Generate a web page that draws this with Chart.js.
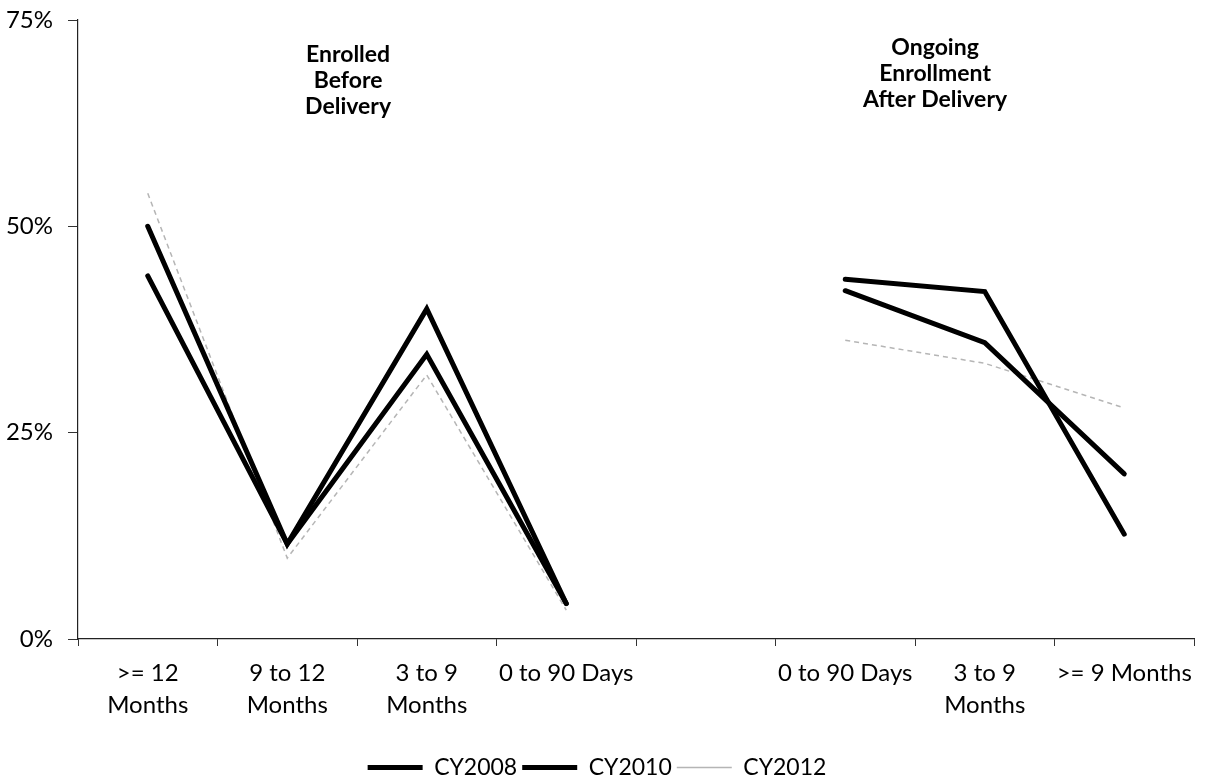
<!DOCTYPE html>
<html>
<head>
<meta charset="utf-8">
<title>Enrollment timing</title>
<script src="https://cdn.jsdelivr.net/npm/chart.js@4.4.1/dist/chart.umd.min.js"></script>
<style>
  html, body { margin: 0; padding: 0; background: #fff; }
  #wrap { width: 1205px; height: 783px; }
</style>
</head>
<body>
<div id="wrap"><canvas id="lineChart" width="1205" height="783"></canvas></div>
<script>
// categories: four "before delivery" buckets, an empty spacer, three "after delivery" buckets
const categories = [
    ['>= 12', 'Months'], ['9 to 12', 'Months'], ['3 to 9', 'Months'], '0 to 90 Days',
    '',
    '0 to 90 Days', ['3 to 9', 'Months'], '>= 9 Months'
];
const cy2008 = [50, 11.5, 40, 4.3, null, 42.2, 35.9, 20];
const cy2010 = [44, 11.5, 34.5, 4.3, null, 43.6, 42.1, 12.7];
const cy2012 = [54, 9.8, 32, 3.5, null, 36.2, 33.4, 28];
const yTicks = [0, 25, 50, 75];
const groupTitles = [
    ['Enrolled', 'Before', 'Delivery'],
    ['Ongoing', 'Enrollment', 'After Delivery']
];

document.addEventListener('DOMContentLoaded', function () {
    Chart.defaults.font.family = 'Lato, "Open Sans", sans-serif';
    Chart.defaults.color = '#111';

    // Bold group captions inside the plot
    const groupTitlePlugin = {
        id: 'groupTitles',
        afterDraw(chart) {
            const area = chart.chartArea;
            const ctx = chart.ctx;
            const spots = [
                { fx: 0.242, top: 35 },
                { fx: 0.768, top: 28 }
            ];
            ctx.save();
            ctx.font = 'bold 23px Lato, sans-serif';
            ctx.fillStyle = '#000';
            ctx.textAlign = 'center';
            ctx.textBaseline = 'middle';
            groupTitles.forEach((lines, i) => {
                const cx = area.left + spots[i].fx * (area.right - area.left);
                lines.forEach((line, j) => {
                    ctx.fillText(line, cx, area.top + spots[i].top + j * 26);
                });
            });
            ctx.restore();
        }
    };

    const black = {
        borderColor: '#000',
        backgroundColor: '#000',
        borderWidth: 5,
        borderJoinStyle: 'miter',
        borderCapStyle: 'round',
        pointRadius: 0,
        tension: 0
    };

    const ctx = document.getElementById('lineChart').getContext('2d');
    new Chart(ctx, {
        type: 'line',
        data: {
            labels: categories,
            datasets: [
                Object.assign({ label: 'CY2008', data: cy2008 }, black),
                Object.assign({ label: 'CY2010', data: cy2010 }, black),
                {
                    label: 'CY2012',
                    data: cy2012,
                    borderColor: 'rgba(150,150,150,0.7)',
                    backgroundColor: 'rgba(150,150,150,0.7)',
                    borderWidth: 1.5,
                    borderDash: [5, 4],
                    pointRadius: 0,
                    tension: 0
                }
            ]
        },
        options: {
            responsive: false,
            animation: false,
            spanGaps: false,
            layout: { padding: { left: 0, right: 11, top: 20, bottom: -6 } },
            scales: {
                x: {
                    offset: true,
                    grid: {
                        offset: true,
                        drawOnChartArea: false,
                        drawTicks: true,
                        tickLength: 7,
                        color: '#333'
                    },
                    border: { display: true, color: '#222', width: 1.2 },
                    ticks: {
                        autoSkip: false,
                        maxRotation: 0,
                        padding: 12,
                        color: '#000',
                        font: { size: 24, lineHeight: 1.3 }
                    },
                    afterFit(scale) { scale.height = 112; }
                },
                y: {
                    min: 0,
                    max: 75,
                    afterBuildTicks(scale) {
                        scale.ticks = yTicks.map(v => ({ value: v }));
                    },
                    grid: {
                        drawOnChartArea: false,
                        drawTicks: true,
                        tickLength: 10,
                        color: '#333'
                    },
                    border: { display: true, color: '#222', width: 1.2 },
                    ticks: {
                        padding: 15,
                        color: '#000',
                        font: { size: 24 },
                        callback: v => v + '%'
                    },
                    afterFit(scale) {
                        scale.width = 78;
                        // let the layout padding alone decide the top edge
                        scale.paddingTop = 0;
                        scale.paddingBottom = 0;
                    }
                }
            },
            plugins: {
                legend: {
                    position: 'bottom',
                    labels: {
                        usePointStyle: true,
                        pointStyle: 'line',
                        pointStyleWidth: 55,
                        padding: 5,
                        color: '#000',
                        font: { size: 23 }
                    }
                },
                tooltip: { enabled: false }
            }
        },
        plugins: [groupTitlePlugin]
    });
});
</script>
</body>
</html>
